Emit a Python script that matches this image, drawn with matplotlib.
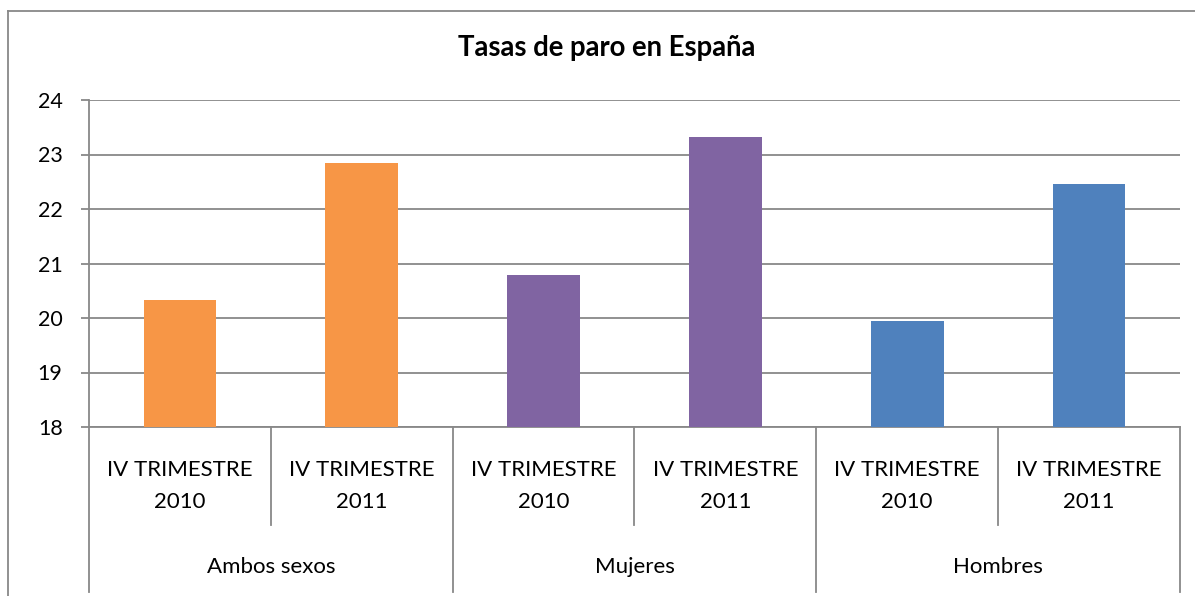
import matplotlib
matplotlib.use("Agg")
import matplotlib.pyplot as plt
from matplotlib.lines import Line2D

plt.rcParams['font.family'] = ['Lato', 'DejaVu Sans']

groups = ["Ambos sexos", "Mujeres", "Hombres"]
periods = ["IV TRIMESTRE\n2010", "IV TRIMESTRE\n2011"]
values = [20.33, 22.85, 20.79, 23.32, 19.95, 22.46]
group_colors = ["#F79646", "#8064A2", "#4F81BD"]
yticks = [18, 19, 20, 21, 22, 23, 24]
title = "Tasas de paro en España"

W, H = 1195, 596
fig = plt.figure(figsize=(W / 100, H / 100), dpi=100)
L, R, T, B = 89, 1180, 100, 427
ax = fig.add_axes([L / W, 1 - B / H, (R - L) / W, (B - T) / H])

grid_c = "#888888"
n = len(values)
xs = list(range(n))
colors = [group_colors[i // 2] for i in range(n)]
ax.bar(xs, [v - yticks[0] for v in values], bottom=yticks[0], width=0.4,
       color=colors, zorder=3)

ax.set_xlim(-0.5, n - 0.5)
ax.set_ylim(yticks[0], yticks[-1])
ax.set_yticks(yticks)
ax.set_yticklabels([str(t) for t in yticks], fontsize=15.5)
ax.yaxis.grid(True, color=grid_c, lw=1.3, zorder=0)
ax.set_axisbelow(True)
ax.tick_params(axis='y', length=6, width=1.3, color=grid_c, pad=13)
ax.set_xticks([])
for s in ['top', 'right']:
    ax.spines[s].set_visible(False)
for s in ['left', 'bottom']:
    ax.spines[s].set_color(grid_c)
    ax.spines[s].set_linewidth(1.3)

tr = ax.get_xaxis_transform()
h_px = B - T
y_inner = -(525 - B) / h_px
y_outer = -(592 - B) / h_px
# separators
for k in range(n + 1):
    x = k - 0.5
    yb = y_outer if k % 2 == 0 else y_inner
    ax.add_line(Line2D([x, x], [0, yb], transform=tr, color=grid_c, lw=1.3,
                       clip_on=False))

# period labels
for i in range(n):
    ax.text(i, -(486 - B) / h_px, periods[i % 2], transform=tr, ha='center',
            va='center', fontsize=16, linespacing=1.75)
for g, name in enumerate(groups):
    ax.text(2 * g + 0.5, -(567 - B) / h_px, name, transform=tr, ha='center',
            va='center', fontsize=16)

# title
fig.text(607 / W, 1 - 48 / H, title, ha='center', va='center', fontsize=19.8,
         fontweight='bold')

# outer chart border (cropped at right and bottom)
fig.add_artist(Line2D([8 / W, 1], [1 - 11 / H, 1 - 11 / H], transform=fig.transFigure,
                      color=grid_c, lw=1.3))
fig.add_artist(Line2D([8 / W, 8 / W], [1 - 11 / H, 0], transform=fig.transFigure,
                      color=grid_c, lw=1.3))

fig.savefig("out.png", dpi=100)
